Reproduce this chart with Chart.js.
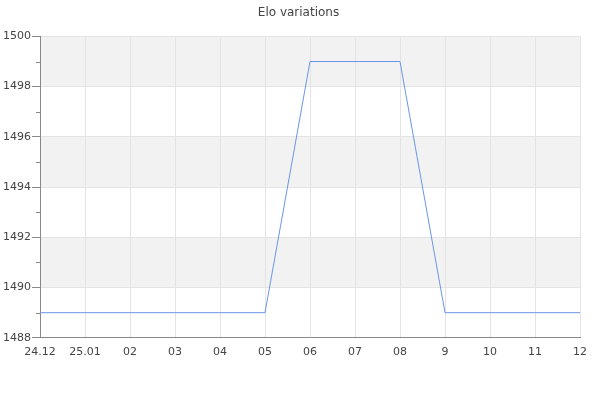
<!DOCTYPE html>
<html>
<head>
<meta charset="utf-8">
<script src="https://cdn.jsdelivr.net/npm/chart.js@4/dist/chart.umd.min.js"></script>
<style>
html,body{margin:0;padding:0;background:#fff;}
#wrap{width:600px;height:400px;}
</style>
</head>
<body>
<div id="wrap"><canvas id="c" width="600" height="400"></canvas></div>
<script>
const categories = ['24.12','25.01','02','03','04','05','06','07','08','9','10','11','12'];
const eloValues = [1489,1489,1489,1489,1489,1489,1499,1499,1499,1489,1489,1489,1489];
const yMin = 1488, yMax = 1500;
const bands = [[1498,1500],[1494,1496],[1490,1492]];

const bandPlugin = {
  id: 'bands',
  afterLayout(chart) {
    // center the title over the full canvas width
    if (chart.titleBlock) {
      chart.titleBlock.left = 17;
      chart.titleBlock.right = 580;
    }
  },
  beforeDraw(chart) {
    const {ctx, chartArea} = chart;
    const y = chart.scales.y;
    ctx.save();
    ctx.fillStyle = '#f2f2f2';
    bands.forEach(([a,b]) => {
      const t = y.getPixelForValue(b), bt = y.getPixelForValue(a);
      ctx.fillRect(chartArea.left, t, chartArea.right - chartArea.left, bt - t);
    });
    ctx.restore();
  },
  afterDraw(chart) {
    const {ctx, chartArea} = chart;
    const y = chart.scales.y;
    ctx.save();
    ctx.strokeStyle = '#888';
    ctx.lineWidth = 1;
    y.ticks.forEach(t => {
      if (t.value % 2 !== 0) {
        const py = Math.round(y.getPixelForValue(t.value)) + 0.5;
        ctx.beginPath();
        ctx.moveTo(chartArea.left - 4, py);
        ctx.lineTo(chartArea.left, py);
        ctx.stroke();
      }
    });
    ctx.restore();
  }
};

new Chart(document.getElementById('c'), {
  type: 'line',
  data: {
    labels: categories,
    datasets: [{
      data: eloValues,
      borderColor: '#6a96e8',
      borderWidth: 1,
      pointRadius: 0,
      tension: 0,
      fill: false
    }]
  },
  options: {
    responsive: false,
    animation: false,
    devicePixelRatio: 1,
    layout: { padding: { left: 4, right: 20, top: 6, bottom: 33 } },
    plugins: {
      legend: { display: false },
      tooltip: { enabled: false },
      title: {
        display: true,
        text: 'Elo variations',
        color: '#444',
        font: { family: 'DejaVu Sans', size: 12, weight: 'normal' },
        padding: { top: 0, bottom: 16 }
      }
    },
    scales: {
      x: {
        offset: false,
        grid: {
          color: '#e3e3e3',
          drawTicks: false
        },
        border: { color: '#888', width: 1 },
        ticks: {
          color: '#444',
          font: { family: 'DejaVu Sans', size: 11 },
          padding: 8,
          maxRotation: 0,
          autoSkip: false
        }
      },
      y: {
        min: yMin,
        max: yMax,
        afterFit(scale) { scale.width = 36; },
        grid: {
          color: ctx => (ctx.tick && ctx.tick.value % 2 !== 0) ? 'rgba(0,0,0,0)' : '#e3e3e3',
          tickColor: ctx => (ctx.tick && ctx.tick.value % 2 !== 0) ? 'rgba(0,0,0,0)' : '#888',
          tickLength: 8
        },
        border: { color: '#888', width: 1 },
        ticks: {
          stepSize: 1,
          color: '#444',
          font: { family: 'DejaVu Sans', size: 11 },
          padding: 1,
          callback: v => (v % 2 === 0 ? String(v) : '')
        }
      }
    }
  },
  plugins: [bandPlugin]
});
</script>
</body>
</html>
